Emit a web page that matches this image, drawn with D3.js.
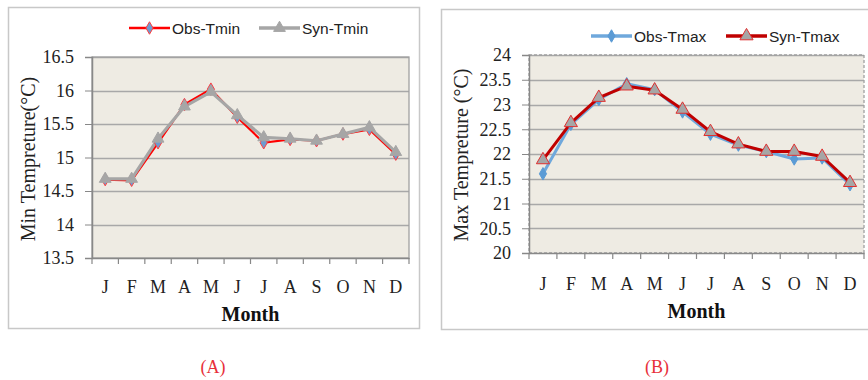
<!DOCTYPE html>
<html><head><meta charset="utf-8">
<script src="https://cdn.jsdelivr.net/npm/d3@7"></script>
<style>body{margin:0;background:#fff}svg{display:block}</style>
</head><body>
<svg id="c" width="868" height="380"></svg>
<script>
const months = ["J","F","M","A","M","J","J","A","S","O","N","D"];
const obsTmin = [14.67,14.66,15.22,15.79,16.02,15.60,15.22,15.27,15.25,15.35,15.42,15.05];
const synTmin = [14.68,14.68,15.28,15.76,15.98,15.63,15.30,15.28,15.25,15.35,15.45,15.08];
const obsTmax = [21.60,22.60,23.10,23.42,23.30,22.85,22.40,22.18,22.05,21.90,21.92,21.38];
const synTmax = [21.88,22.63,23.14,23.37,23.29,22.90,22.45,22.20,22.05,22.05,21.95,21.42];
const ticksA = [13.5,14,14.5,15,15.5,16,16.5];
const ticksB = [20,20.5,21,21.5,22,22.5,23,23.5,24];

const svg = d3.select("#c");
const serif = "'Liberation Serif','Times New Roman',serif";
const sans = "'Liberation Sans',Arial,sans-serif";

function panel(cfg){
  const g = svg.append("g");
  g.append("rect").attr("x",cfg.box[0]+0.5).attr("y",cfg.box[1]+0.5)
    .attr("width",cfg.box[2]).attr("height",cfg.box[3])
    .attr("fill","#fff").attr("stroke","#c8c8c8").attr("stroke-width",1.5);
  const x = d3.scaleBand().domain(d3.range(12)).range([cfg.pl,cfg.pr]);
  const y = d3.scaleLinear().domain(cfg.dom).range([cfg.pb,cfg.pt]);
  g.append("rect").attr("x",cfg.pl).attr("y",cfg.pt).attr("width",cfg.pr-cfg.pl).attr("height",cfg.pb-cfg.pt)
    .attr("fill","#eeebe3");
  g.append("g").selectAll("line").data(cfg.ticks.slice(1)).join("line")
    .attr("x1",cfg.pl).attr("x2",cfg.pr).attr("y1",d=>Math.round(y(d))+0.5).attr("y2",d=>Math.round(y(d))+0.5)
    .attr("stroke","#a8a8a8").attr("stroke-width",1.3);
  g.append("rect").attr("x",cfg.pl).attr("y",cfg.pt).attr("width",cfg.pr-cfg.pl).attr("height",cfg.pb-cfg.pt)
    .attr("fill","none").attr("stroke","#a0a0a0").attr("stroke-width",1.3)
    .attr("stroke-dasharray",cfg.dashed?"3,2":null);
  const ya = g.append("g").attr("transform",`translate(${cfg.pl},0)`)
    .call(d3.axisLeft(y).tickValues(cfg.ticks).tickSize(7).tickPadding(11).tickFormat(d=>d));
  ya.select(".domain").attr("stroke","#888").attr("stroke-width",1.5);
  ya.selectAll(".tick line").attr("stroke","#888");
  ya.selectAll("text").attr("font-family",serif).attr("font-size",cfg.tfs).attr("fill","#222");
  const xa = g.append("g").attr("transform",`translate(0,${cfg.pb})`)
    .call(d3.axisBottom(x).tickSize(0).tickPadding(cfg.xpad).tickFormat(i=>months[i]));
  xa.select(".domain").attr("stroke","#888").attr("stroke-width",1.5);
  xa.selectAll("text").attr("font-family",serif).attr("font-size",cfg.xfs).attr("fill","#222");
  g.append("g").selectAll("line").data(d3.range(13)).join("line")
    .attr("x1",i=>cfg.pl+i*x.step()).attr("x2",i=>cfg.pl+i*x.step())
    .attr("y1",cfg.pb).attr("y2",cfg.pb+6).attr("stroke","#888").attr("stroke-width",1.2);
  g.append("text").attr("x",(cfg.pl+cfg.pr)/2).attr("y",cfg.mty).attr("text-anchor","middle")
    .attr("font-family",serif).attr("font-weight","bold").attr("font-size",20).attr("fill","#111").text("Month");
  g.append("text").attr("transform",`translate(${cfg.ylx},${cfg.yly}) rotate(-90)`).attr("text-anchor","middle")
    .attr("font-family",serif).attr("font-size",cfg.ylfs).attr("fill","#222").text(cfg.ylab);
  const line = d3.line().x((d,i)=>x(i)+x.bandwidth()/2).y(d=>y(d));
  const tri = d3.symbol().type(d3.symbolTriangle).size(cfg.triSize);
  const dia = d3.symbol().type(d3.symbolDiamond).size(cfg.diaSize);
  cfg.series.forEach(s=>{
    g.append("path").datum(s.data).attr("d",line).attr("fill","none")
      .attr("stroke",s.color).attr("stroke-width",s.w).attr("stroke-linejoin","round");
  });
  cfg.series.forEach(s=>{
    g.append("g").selectAll("path").data(s.data).join("path")
      .attr("transform",(d,i)=>`translate(${x(i)+x.bandwidth()/2},${y(d)})`)
      .attr("d",s.marker==="tri"?tri:dia).attr("fill",s.mfill).attr("stroke",s.mstroke).attr("stroke-width",1);
  });
  cfg.series.forEach((s,k)=>{
    const lx = cfg.leg[k][0], ly = cfg.leg[k][1];
    g.append("line").attr("x1",lx).attr("x2",lx+41).attr("y1",ly).attr("y2",ly)
      .attr("stroke",s.color).attr("stroke-width",s.w+0.5);
    g.append("path").attr("transform",`translate(${lx+20.5},${ly})`)
      .attr("d",s.marker==="tri"?tri:dia).attr("fill",s.mfill).attr("stroke",s.mstroke).attr("stroke-width",1);
    g.append("text").attr("x",lx+43).attr("y",ly+5.5).attr("font-family",sans).attr("font-size",15.5)
      .attr("fill","#222").text(s.name);
  });
}

panel({box:[8,7,411,321], pl:92, pr:409, pt:57, pb:258, dom:[13.5,16.5], ticks:ticksA, tfs:18, xfs:18, xpad:22,
  mty:321, ylx:35, yly:159, ylfs:20, ylab:"Min Tempreture(°C)", dashed:false, triSize:60, diaSize:45,
  leg:[[129,28],[259,28]],
  series:[
    {name:"Obs-Tmin", data:obsTmin, color:"#ff0000", w:2.2, marker:"dia", mfill:"#6e9bd0", mstroke:"#ff4040"},
    {name:"Syn-Tmin", data:synTmin, color:"#a6a6a6", w:3.2, marker:"tri", mfill:"#a6a6a6", mstroke:"#a6a6a6"}
  ]});

panel({box:[441,9,428,320], pl:529, pr:864, pt:55, pb:253, dom:[20,24], ticks:ticksB, tfs:18, xfs:18, xpad:24,
  mty:318, ylx:468, yly:155, ylfs:20, ylab:"Max Tempreture (°C)", dashed:true, triSize:75, diaSize:45,
  leg:[[591,36],[726,36]],
  series:[
    {name:"Obs-Tmax", data:obsTmax, color:"#6fa8dc", w:3, marker:"dia", mfill:"#5b9bd5", mstroke:"#5b9bd5"},
    {name:"Syn-Tmax", data:synTmax, color:"#c00000", w:3, marker:"tri", mfill:"#a6a6a6", mstroke:"#e03030"}
  ]});

svg.append("text").attr("x",213).attr("y",373).attr("text-anchor","middle").attr("font-family",serif)
  .attr("font-size",18).attr("fill","#e8303a").text("(A)");
svg.append("text").attr("x",657).attr("y",373).attr("text-anchor","middle").attr("font-family",serif)
  .attr("font-size",18).attr("fill","#e8303a").text("(B)");
</script>
</body></html>
